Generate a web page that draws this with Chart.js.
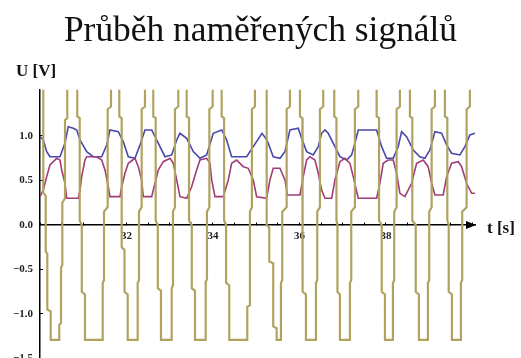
<!DOCTYPE html>
<html>
<head>
<meta charset="utf-8">
<script src="https://cdn.jsdelivr.net/npm/chart.js@4/dist/chart.umd.min.js"></script>
<style>
html, body { margin: 0; padding: 0; background: #fff; overflow: hidden; }
canvas { display: block; }
</style>
</head>
<body>
<canvas id="c" width="521" height="380"></canvas>
<script>
const chartTitle = 'Průběh naměřených signálů';
const yAxisLabel = 'U [V]';
const xAxisLabel = 't [s]';
const xTickLabels = [32, 34, 36, 38];
const yTickValues = [-1.5, -1.0, -0.5, 0.0, 0.5, 1.0];

const blueT = [30.000, 30.076, 30.155, 30.231, 30.462, 30.578, 30.654, 30.770, 30.849, 30.925,
  31.080, 31.232, 31.427, 31.542, 31.618, 31.810, 31.926, 32.042, 32.197, 32.312,
  32.428, 32.583, 32.698, 32.890, 33.045, 33.161, 33.237, 33.392, 33.545, 33.699,
  33.854, 34.007, 34.201, 34.317, 34.432, 34.779, 34.932, 35.133, 35.249, 35.394,
  35.549, 35.665, 35.780, 35.972, 36.051, 36.166, 36.319, 36.435, 36.513, 36.590,
  36.666, 36.821, 36.936, 37.091, 37.207, 37.283, 37.360, 37.785, 37.901, 38.016,
  38.169, 38.284, 38.363, 38.478, 38.631, 38.786, 38.902, 39.017, 39.133, 39.288,
  39.403, 39.519, 39.711, 39.827, 39.942, 40.058];
const blueV = [0.992, 0.955, 0.824, 0.767, 0.767, 0.921, 1.104, 1.087, 1.067, 0.955,
  0.824, 0.767, 0.767, 0.899, 1.067, 1.048, 0.936, 0.767, 0.749, 0.899,
  1.067, 1.067, 0.955, 0.767, 0.787, 0.955, 1.030, 0.974, 0.824, 0.749,
  0.787, 1.030, 1.067, 0.955, 0.767, 0.767, 0.880, 1.030, 0.955, 0.767,
  0.749, 0.824, 1.067, 1.087, 0.974, 0.824, 0.787, 0.880, 1.030, 1.067,
  1.030, 0.880, 0.767, 0.730, 0.787, 0.918, 1.067, 1.067, 0.880, 0.749,
  0.749, 0.880, 1.048, 0.992, 0.843, 0.767, 0.749, 0.843, 1.048, 1.030,
  0.899, 0.806, 0.787, 0.880, 1.011, 1.030];

const purpleT = [30.000, 30.076, 30.155, 30.231, 30.386, 30.462, 30.502, 30.578, 30.617, 30.886,
  30.925, 30.964, 31.040, 31.080, 31.311, 31.427, 31.503, 31.579, 31.618, 31.850,
  31.889, 31.965, 32.042, 32.197, 32.273, 32.351, 32.388, 32.583, 32.659, 32.735,
  32.851, 33.006, 33.082, 33.161, 33.237, 33.392, 33.507, 33.623, 33.699, 33.854,
  33.931, 33.970, 34.046, 34.238, 34.354, 34.432, 34.548, 34.701, 34.816, 34.932,
  35.010, 35.242, 35.318, 35.394, 35.549, 35.665, 35.723, 36.012, 36.088, 36.166,
  36.243, 36.358, 36.435, 36.513, 36.590, 36.745, 36.821, 36.936, 37.052, 37.168,
  37.244, 37.360, 37.785, 37.861, 37.937, 38.053, 38.169, 38.247, 38.324, 38.439,
  38.594, 38.710, 38.862, 38.978, 39.057, 39.133, 39.325, 39.403, 39.519, 39.672,
  39.750, 39.866, 39.982, 40.058];
const purpleV = [0.318, 0.393, 0.543, 0.674, 0.749, 0.730, 0.618, 0.469, 0.300, 0.300,
  0.393, 0.543, 0.730, 0.767, 0.767, 0.730, 0.618, 0.430, 0.318, 0.318,
  0.430, 0.581, 0.693, 0.749, 0.655, 0.506, 0.318, 0.318, 0.469, 0.618,
  0.711, 0.749, 0.693, 0.506, 0.318, 0.300, 0.430, 0.618, 0.730, 0.749,
  0.693, 0.506, 0.318, 0.318, 0.506, 0.693, 0.730, 0.655, 0.637, 0.506,
  0.318, 0.300, 0.506, 0.637, 0.637, 0.506, 0.337, 0.337, 0.543, 0.730,
  0.767, 0.730, 0.581, 0.393, 0.300, 0.300, 0.506, 0.711, 0.749, 0.693,
  0.543, 0.300, 0.300, 0.469, 0.693, 0.730, 0.730, 0.581, 0.356, 0.318,
  0.469, 0.693, 0.730, 0.655, 0.469, 0.337, 0.337, 0.543, 0.693, 0.711,
  0.655, 0.469, 0.356, 0.356];

const yellowT = [30.000,
  30.076, 30.076, 30.132, 30.132, 30.169, 30.169, 30.247, 30.247,
  30.446, 30.446, 30.486, 30.486, 30.516, 30.516, 30.578, 30.578, 30.631, 30.631,
  30.862, 30.862, 30.918, 30.918, 30.966, 30.966, 31.040, 31.040,
  31.450, 31.450, 31.480, 31.480, 31.565, 31.565, 31.642, 31.642,
  31.834, 31.834, 31.889, 31.889, 31.954, 31.954, 32.028, 32.028,
  32.259, 32.259, 32.289, 32.289, 32.351, 32.351, 32.428, 32.428,
  32.620, 32.620, 32.675, 32.675, 32.724, 32.724, 32.798, 32.798,
  33.045, 33.045, 33.075, 33.075, 33.121, 33.121, 33.198, 33.198,
  33.392, 33.392, 33.447, 33.447, 33.510, 33.510, 33.584, 33.584,
  33.831, 33.831, 33.861, 33.861, 33.917, 33.917, 33.993, 33.993,
  34.201, 34.201, 34.257, 34.257, 34.303, 34.303, 34.377, 34.377,
  34.793, 34.793, 34.855, 34.855, 34.900, 34.900, 34.971, 34.971,
  35.242, 35.242, 35.302, 35.302, 35.394, 35.394, 35.473, 35.473,
  35.572, 35.572, 35.602, 35.602, 35.704, 35.704, 35.780, 35.780,
  36.012, 36.012, 36.067, 36.067, 36.076, 36.076, 36.150, 36.150,
  36.382, 36.382, 36.412, 36.412, 36.474, 36.474, 36.550, 36.550,
  36.805, 36.805, 36.856, 36.856, 36.879, 36.879, 36.936, 36.936,
  37.168, 37.168, 37.198, 37.198, 37.283, 37.283, 37.360, 37.360,
  37.785, 37.785, 37.841, 37.841, 37.903, 37.903, 37.977, 37.977,
  38.162, 38.162, 38.192, 38.192, 38.247, 38.247, 38.324, 38.324,
  38.555, 38.555, 38.610, 38.610, 38.689, 38.689, 38.763, 38.763,
  38.971, 38.971, 39.001, 39.001, 39.057, 39.057, 39.133, 39.133,
  39.364, 39.364, 39.420, 39.420, 39.452, 39.452, 39.526, 39.526,
  39.734, 39.734, 39.764, 39.764, 39.866, 39.866, 39.942, 39.942,
  40.060];
const yellowV = [1.8,
  1.8, 0.36, 0.33, -0.30, -0.32, -0.95, -0.97, -1.29,
  -1.29, -1.12, -1.10, -0.48, -0.45, 0.25, 0.30, 1.18, 1.20, 1.8,
  1.8, 1.22, 1.20, 0.05, 0.00, -0.75, -0.78, -1.29,
  -1.29, -0.65, -0.62, 0.15, 0.20, 1.30, 1.33, 1.8,
  1.8, 1.22, 1.20, -0.25, -0.28, -0.75, -0.78, -1.29,
  -1.29, -0.65, -0.62, 0.15, 0.20, 1.30, 1.33, 1.8,
  1.8, 1.22, 1.20, 0.05, 0.00, -0.71, -0.74, -1.29,
  -1.29, -0.71, -0.68, 0.15, 0.20, 1.30, 1.33, 1.8,
  1.8, 1.22, 1.20, 0.05, 0.00, -0.71, -0.74, -1.29,
  -1.29, -0.64, -0.61, 0.15, 0.20, 1.30, 1.33, 1.8,
  1.8, 1.22, 1.20, 0.05, 0.00, -0.65, -0.68, -1.29,
  -1.29, -0.92, -0.90, 0.15, 0.20, 1.30, 1.33, 1.8,
  1.8, 0.00, -0.03, -0.41, -0.43, -1.14, -1.16, -1.29,
  -1.29, -0.65, -0.62, 0.15, 0.20, 1.30, 1.33, 1.8,
  1.8, 1.22, 1.20, 0.05, 0.00, -0.75, -0.78, -1.29,
  -1.29, -0.65, -0.62, 0.15, 0.20, 1.30, 1.33, 1.8,
  1.8, 1.22, 1.20, 0.05, 0.00, -0.75, -0.78, -1.29,
  -1.29, -0.65, -0.62, 0.15, 0.20, 1.30, 1.33, 1.8,
  1.8, 1.22, 1.20, 0.05, 0.00, -0.75, -0.78, -1.29,
  -1.29, -0.65, -0.62, 0.15, 0.20, 1.30, 1.33, 1.8,
  1.8, 1.22, 1.20, 0.05, 0.00, -0.75, -0.78, -1.29,
  -1.29, -0.65, -0.62, 0.15, 0.20, 1.30, 1.33, 1.8,
  1.8, 1.22, 1.20, 0.05, 0.00, -0.75, -0.78, -1.29,
  -1.29, -0.65, -0.62, 0.15, 0.20, 1.30, 1.33, 1.8,
  1.8];

const toPoints = (T, V) => T.map((t, i) => ({ x: t, y: V[i] }));
const fmtY = v => (v < 0 ? '\u2212' : '') + Math.abs(v).toFixed(1);

const axisDecor = {
  id: 'axisDecor',
  afterDraw(chart) {
    const { ctx, scales: { x, y } } = chart;
    const y0 = y.getPixelForValue(0);
    const xr = x.getPixelForValue(x.max);
    ctx.save();
    ctx.fillStyle = '#000';
    ctx.beginPath();
    ctx.moveTo(xr + 1, y0);
    ctx.lineTo(xr - 9, y0 - 4);
    ctx.lineTo(xr - 9, y0 + 4);
    ctx.closePath();
    ctx.fill();
    ctx.fillStyle = '#111';
    ctx.font = 'bold 17px "Liberation Serif"';
    ctx.textBaseline = 'alphabetic';
    ctx.textAlign = 'left';
    ctx.fillText(xAxisLabel, xr + 12, y0 + 8);
    ctx.fillText(yAxisLabel, 16, y.top - 14);
    ctx.restore();
  }
};

new Chart(document.getElementById('c'), {
  type: 'line',
  data: {
    datasets: [
      { data: toPoints(yellowT, yellowV), borderColor: 'rgb(176,163,96)', borderWidth: 2.2, order: 0 },
      { data: toPoints(purpleT, purpleV), borderColor: 'rgb(160,60,120)', borderWidth: 1.6, order: 1 },
      { data: toPoints(blueT, blueV), borderColor: 'rgb(72,72,170)', borderWidth: 1.6, order: 2 }
    ]
  },
  options: {
    responsive: false,
    animation: false,
    devicePixelRatio: 1,
    elements: { point: { radius: 0 }, line: { tension: 0, fill: false } },
    layout: { padding: { left: 0, right: 0, top: 0, bottom: 21.5 } },
    plugins: {
      legend: { display: false },
      tooltip: { enabled: false },
      title: {
        display: true,
        text: chartTitle,
        color: '#111',
        font: { family: 'Liberation Serif', size: 35.4, weight: 'normal' },
        padding: { top: 10.8, bottom: 36.4 }
      }
    },
    scales: {
      x: {
        type: 'linear',
        min: 30,
        max: 40.06,
        position: { y: 0 },
        afterFit: s => { s.height = 0; },
        border: { display: true, color: '#000', width: 1.5 },
        grid: { display: true, drawOnChartArea: false, drawTicks: true, tickLength: -3, color: '#000' },
        ticks: {
          stepSize: 0.5, includeBounds: false, autoSkip: false, maxRotation: 0, padding: 8,
          color: '#222', font: { family: 'Liberation Serif', size: 11, weight: 'bold' },
          callback: v => xTickLabels.includes(v) ? String(v) : ''
        }
      },
      y: {
        type: 'linear',
        position: 'left',
        min: -1.5,
        max: 1.52,
        afterFit: s => { s.width = 40; },
        afterBuildTicks: s => { s.ticks = yTickValues.map(v => ({ value: v })); },
        border: { display: true, color: '#000', width: 1.5 },
        grid: { display: true, drawOnChartArea: false, drawTicks: true, tickLength: -3, color: '#000' },
        ticks: {
          padding: 10, color: '#222', font: { family: 'Liberation Serif', size: 11, weight: 'bold' },
          callback: v => fmtY(v)
        }
      },
      yPad: {
        type: 'linear',
        position: 'right',
        display: true,
        afterFit: s => { s.width = 46; },
        border: { display: false },
        grid: { display: false },
        ticks: { display: false }
      }
    }
  },
  plugins: [axisDecor]
});
</script>
</body>
</html>
